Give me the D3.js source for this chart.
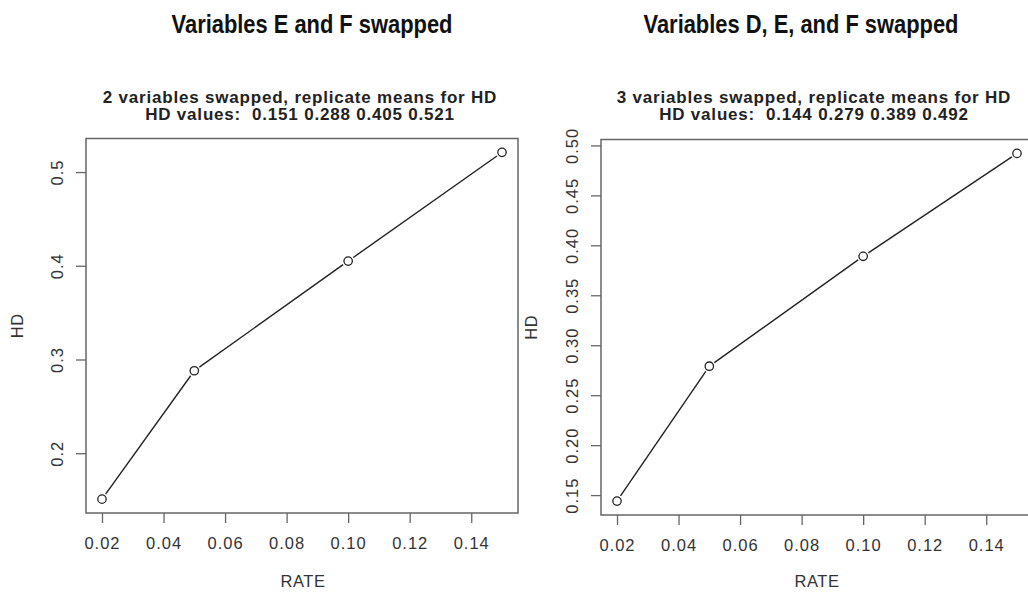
<!DOCTYPE html>
<html>
<head>
<meta charset="utf-8">
<script src="https://cdn.jsdelivr.net/npm/d3@7"></script>
<style>
  body { margin: 0; background: #fff; }
  svg { display: block; }
</style>
</head>
<body>
<svg id="chart"></svg>
<script>
// data
const rates = [0.02, 0.05, 0.10, 0.15];
const hdTwoSwapped = [0.151, 0.288, 0.405, 0.521];
const hdThreeSwapped = [0.144, 0.279, 0.389, 0.492];
const rateTicks = [0.02, 0.04, 0.06, 0.08, 0.10, 0.12, 0.14];
const hdTicksLeft = [0.2, 0.3, 0.4, 0.5];
const hdTicksRight = [0.15, 0.20, 0.25, 0.30, 0.35, 0.40, 0.45, 0.50];
const headings = ['Variables E and F swapped', 'Variables D, E, and F swapped'];
const subtitles = [
  ['2 variables swapped, replicate means for HD', 'HD values:  0.151 0.288 0.405 0.521'],
  ['3 variables swapped, replicate means for HD', 'HD values:  0.144 0.279 0.389 0.492'],
];

const W = 1028, H = 593;
const svg = d3.select('#chart').attr('width', W).attr('height', H);

const TEXT = '#333';
const BOX = '#666';
const FONT = '"Liberation Sans", Arial, sans-serif';

// R style 4% padding on each side
const pad = (ext) => {
  const d = (ext[1] - ext[0]) * 0.04;
  return [ext[0] - d, ext[1] + d];
};

const panels = [
  { left: 86, right: 518, top: 138.5, bottom: 513, values: hdTwoSwapped, yTicks: hdTicksLeft, fmt: '.1f',
    headX: 312, subX: 300, hdX: 23 },
  { left: 601, right: 1033, top: 139.5, bottom: 515, values: hdThreeSwapped, yTicks: hdTicksRight, fmt: '.2f',
    headX: 801, subX: 814, hdX: 537 },
];

panels.forEach((p, i) => {
  const g = svg.append('g');

  const x = d3.scaleLinear().domain(pad(d3.extent(rates))).range([p.left, p.right]);
  const y = d3.scaleLinear().domain(pad(d3.extent(p.values))).range([p.bottom, p.top]);

  // big heading (narrow bold look: squeeze the regular bold face)
  const head = g.append('text')
    .attr('x', p.headX).attr('y', 33)
    .attr('text-anchor', 'middle')
    .style('font-family', '"Liberation Sans Narrow", "Arial Narrow", "Liberation Sans", sans-serif')
    .style('font-weight', 'bold')
    .style('font-size', '25px')
    .style('fill', '#111')
    .text(headings[i]);
  const hw = head.node().getComputedTextLength();
  head.attr('textLength', hw * 0.875).attr('lengthAdjust', 'spacingAndGlyphs');

  // plot title, two lines
  subtitles[i].forEach((s, k) => {
    g.append('text')
      .attr('x', p.subX).attr('y', 103 + k * 17)
      .attr('text-anchor', 'middle')
      .style('font-family', FONT)
      .style('font-weight', 'bold')
      .style('font-size', '17px')
      .style('letter-spacing', '0.8px')
      .style('white-space', 'pre')
      .style('fill', '#222')
      .text(s);
  });

  // x axis
  const xAxis = g.append('g')
    .attr('transform', 'translate(0,' + p.bottom + ')')
    .call(d3.axisBottom(x).tickValues(rateTicks).tickFormat(d3.format('.2f')).tickSize(10).tickPadding(14));
  xAxis.select('.domain').remove();
  xAxis.selectAll('line').attr('stroke', BOX).attr('stroke-width', 1.3);
  xAxis.selectAll('text')
    .style('font-family', FONT)
    .style('font-size', '16.5px')
    .style('letter-spacing', '1px')
    .style('fill', TEXT);

  // y axis, labels parallel to the axis like R
  const yAxis = g.append('g')
    .attr('transform', 'translate(' + p.left + ',0)')
    .call(d3.axisLeft(y).tickValues(p.yTicks).tickFormat(d3.format(p.fmt)).tickSize(10));
  yAxis.select('.domain').remove();
  yAxis.selectAll('line').attr('stroke', BOX).attr('stroke-width', 1.3);
  yAxis.selectAll('text')
    .attr('x', null).attr('dy', null)
    .attr('transform', 'translate(-23,0) rotate(-90)')
    .attr('text-anchor', 'middle')
    .style('font-family', FONT)
    .style('font-size', '16.5px')
    .style('letter-spacing', '1px')
    .style('fill', TEXT);

  // frame
  g.append('rect')
    .attr('x', p.left).attr('y', p.top)
    .attr('width', p.right - p.left).attr('height', p.bottom - p.top)
    .attr('fill', 'none').attr('stroke', BOX).attr('stroke-width', 1.5);

  // axis titles
  g.append('text')
    .attr('x', i ? 817 : 303).attr('y', 587)
    .attr('text-anchor', 'middle')
    .style('font-family', FONT)
    .style('font-size', '16.5px')
    .style('letter-spacing', '0.6px')
    .style('fill', TEXT)
    .text('RATE');

  g.append('text')
    .attr('transform', 'translate(' + p.hdX + ',' + (p.top + p.bottom) / 2 + ') rotate(-90)')
    .attr('text-anchor', 'middle')
    .style('font-family', FONT)
    .style('font-size', '16.5px')
    .style('letter-spacing', '0.6px')
    .style('fill', TEXT)
    .text('HD');

  // line with gaps round the points (type = "b")
  const pts = rates.map((r, k) => [x(r), y(p.values[k])]);
  const r0 = 4.2, gap = r0 + 2;
  d3.pairs(pts).forEach(([a, b]) => {
    const dx = b[0] - a[0], dy = b[1] - a[1];
    const len = Math.hypot(dx, dy);
    const ux = dx / len, uy = dy / len;
    g.append('line')
      .attr('x1', a[0] + ux * gap).attr('y1', a[1] + uy * gap)
      .attr('x2', b[0] - ux * gap).attr('y2', b[1] - uy * gap)
      .attr('stroke', '#222').attr('stroke-width', 1.4);
  });

  g.selectAll('circle.pt')
    .data(pts)
    .enter()
    .append('circle')
    .attr('class', 'pt')
    .attr('cx', (d) => d[0])
    .attr('cy', (d) => d[1])
    .attr('r', r0)
    .attr('fill', '#fff')
    .attr('stroke', '#222')
    .attr('stroke-width', 1.3);
});
</script>
</body>
</html>
